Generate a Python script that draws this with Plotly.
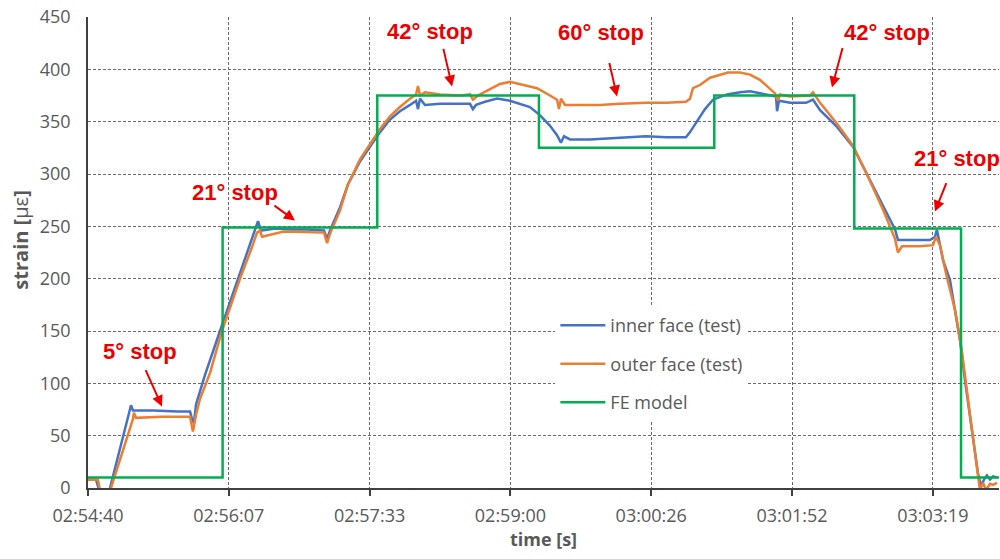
import plotly.graph_objects as go

# Time is given in seconds after 02:54:40; strain in microstrain.
tick_seconds = [0, 86.4, 172.8, 259.2, 345.6, 432.0, 518.4]
tick_labels = ["02:54:40", "02:56:07", "02:57:33", "02:59:00", "03:00:26", "03:01:52", "03:03:19"]

inner_t = [0, 4.9, 8.0, 12.3, 13.5, 25.8, 26.4, 27.6, 40.0, 55.0, 62.6, 63.8, 65.0, 66.3,
           71.8, 81.0, 92.0, 99.4, 104.3, 106.2, 115.0, 125.0, 135.0, 144.8, 146.7, 148.5,
           154.6, 159.5, 166.9, 173.0, 179.2, 185.3, 191.4, 197.6, 201.3, 202.5, 203.7, 206.8,
           216.0, 228.3, 234.4, 236.2, 238.1, 243.6, 251.0, 258.9, 265.1, 271.2, 277.4, 283.5,
           287.8, 290.2, 292.1, 295.8, 308.0, 320.3, 332.6, 342.4, 355.0, 366.9, 369.4, 373.7,
           378.6, 383.5, 392.1, 400.1, 406.2, 416.0, 422.2, 422.8, 424.0, 430.8, 440.6, 444.9,
           449.2, 459.6, 469.4, 479.9, 487.8, 495.2, 497.0, 504.4, 510.5, 516.7, 519.7, 520.9,
           524.6, 528.9, 535.1, 538.1, 542.4, 546.1, 548.0, 549.8, 551.6, 553.5, 555.3, 557.8]
inner_y = [8, 8, -8, -8, 0, 74, 79, 74, 74, 73, 73, 66, 62, 80,
           108, 150, 200, 232, 255, 246, 248, 247, 247, 246, 238, 246,
           268, 290, 312, 326, 340, 352, 360, 366, 370, 362, 372, 366,
           367, 367, 367, 362, 366, 369, 372, 370, 367, 364, 356, 346,
           337, 330, 336, 333, 333, 334, 335, 336, 335, 335, 340, 350,
           362, 371, 376, 378, 379, 376, 374, 360, 370, 368, 368, 371,
           361, 345, 326, 294, 269, 247, 237, 237, 237, 237, 240, 247,
           218, 199, 141, 103, 55, 14, 2, 8, 12, 8, 11, 10]

outer_t = [0, 6.1, 8.0, 12.9, 14.1, 27.6, 28.2, 29.5, 45.0, 62.6, 64.4, 66.3, 68.7, 74.9,
           82.2, 93.3, 100.6, 103.7, 105.5, 106.8, 120.0, 135.0, 144.8, 146.7, 148.5, 154.6,
           159.5, 166.9, 173.0, 179.2, 185.3, 191.4, 197.6, 201.3, 202.5, 203.7, 206.8, 216.0,
           228.3, 234.4, 236.2, 239.3, 246.7, 252.8, 258.9, 265.1, 275.5, 283.5, 287.8, 289.0,
           290.2, 292.7, 301.9, 314.2, 326.4, 342.4, 355.0, 366.9, 369.4, 371.2, 375.5, 381.7,
           392.7, 400.1, 406.2, 412.3, 417.3, 421.6, 423.4, 424.6, 430.8, 443.0, 444.9, 449.2,
           459.6, 469.4, 479.9, 487.8, 495.2, 497.0, 499.5, 510.5, 518.5, 520.3, 522.8, 526.5,
           532.0, 536.3, 541.2, 544.9, 547.3, 549.2, 551.0, 553.5, 555.3, 557.8]
outer_y = [8, 8, -8, -8, 0, 66, 72, 67, 68, 68, 54, 70, 85, 110,
           150, 200, 230, 244, 246, 240, 245, 244, 244, 234, 243, 265,
           290, 314, 328, 343, 355, 364, 372, 376, 384, 375, 378, 376,
           375, 376, 371, 375, 381, 386, 388, 386, 382, 375, 371, 362,
           372, 366, 366, 366, 367, 368, 368, 369, 372, 382, 385, 392,
           397, 397, 395, 390, 383, 377, 370, 376, 374, 375, 378, 368,
           348, 327, 293, 266, 238, 225, 231, 231, 232, 240, 232, 205,
           170, 130, 70, 25, -2, 5, -2, 4, 3, 5]

fe_t = [0, 82.6, 177.5, 276.7, 384.3, 470.2, 535.7, 559.0]
fe_y = [10, 249, 375, 325, 375, 248, 10, 10]

BLUE = "#4472C4"
ORANGE = "#ED7D31"
GREEN = "#00B050"
RED = "#EE0000"
GREY = "#595959"
TICK_FONT = dict(family="Open Sans", size=18, color=GREY)

fig = go.Figure()
fig.add_trace(go.Scatter(x=inner_t, y=inner_y, mode="lines", name="inner face (test)",
                         legendgroup="a", line=dict(color=BLUE, width=2.5)))
fig.add_trace(go.Scatter(x=outer_t, y=outer_y, mode="lines", name="outer face (test)",
                         legendgroup="b", line=dict(color=ORANGE, width=2.5)))
fig.add_trace(go.Scatter(x=fe_t, y=fe_y, mode="lines", name="FE model", line_shape="hv",
                         legendgroup="c", line=dict(color=GREEN, width=2.5)))

# Red "stop" labels and their pointer arrows
labels = [
    ("5° stop", 32.2, 130.1, 45.4, 77.8, -17, -38),
    ("21° stop", 90.2, 282.3, 127.0, 255.5, -22, -16),
    ("42° stop", 209.9, 436.3, 223.4, 383.7, -9, -39),
    ("60° stop", 314.8, 435.4, 324.6, 374.1, -8, -35),
    ("42° stop", 490.0, 435.4, 456.5, 382.7, 11, -41),
    ("21° stop", 533.0, 314.8, 519.7, 264.1, 12, -30),
]
for text, tx, ty, hx, hy, ax, ay in labels:
    fig.add_annotation(x=tx, y=ty, text=f"<b>{text}</b>", showarrow=False,
                       font=dict(family="Liberation Sans", size=22, color=RED))
    fig.add_annotation(x=hx, y=hy, text="", showarrow=True, ax=ax, ay=ay,
                       arrowhead=2, arrowsize=1.1, arrowwidth=2, arrowcolor=RED)

# Vertical axis title
fig.add_annotation(xref="paper", yref="paper", x=-0.0737, y=0.527, textangle=-90,
                   text="<b>strain [</b>με<b>]</b>", showarrow=False,
                   xanchor="center", yanchor="middle",
                   font=dict(family="Open Sans", size=20, color=GREY))

fig.update_xaxes(
    range=[0, 559], tickvals=tick_seconds, ticktext=tick_labels, tickfont=TICK_FONT,
    ticklabelstandoff=5,
    showgrid=True, gridcolor="#6a6a6a", gridwidth=1, griddash="3px,2px",
    showline=True, linecolor="#404040", linewidth=1.5, zeroline=False,
    ticks="outside", ticklen=6, tickcolor="#404040", tickwidth=1.5,
    title=dict(text="<b>time [s]</b>", font=dict(family="Open Sans", size=18, color=GREY), standoff=6),
)
fig.update_yaxes(
    range=[0, 450], dtick=50, tickfont=TICK_FONT, ticklabelstandoff=12,
    showgrid=True, gridcolor="#6a6a6a", gridwidth=1, griddash="3px,2px",
    showline=True, linecolor="#404040", linewidth=1.5, zeroline=False,
)
fig.update_layout(
    width=1000, height=559, autosize=False,
    margin=dict(l=88, r=1, t=17, b=71),
    plot_bgcolor="white", paper_bgcolor="white",
    legend=dict(x=0.513, y=0.384, xanchor="left", yanchor="top", bgcolor="white",
                font=dict(family="Open Sans", size=18, color=GREY), itemwidth=45,
                traceorder="grouped", tracegroupgap=12),
    showlegend=True,
)
fig.write_html("out.html", config={"displayModeBar": False})
